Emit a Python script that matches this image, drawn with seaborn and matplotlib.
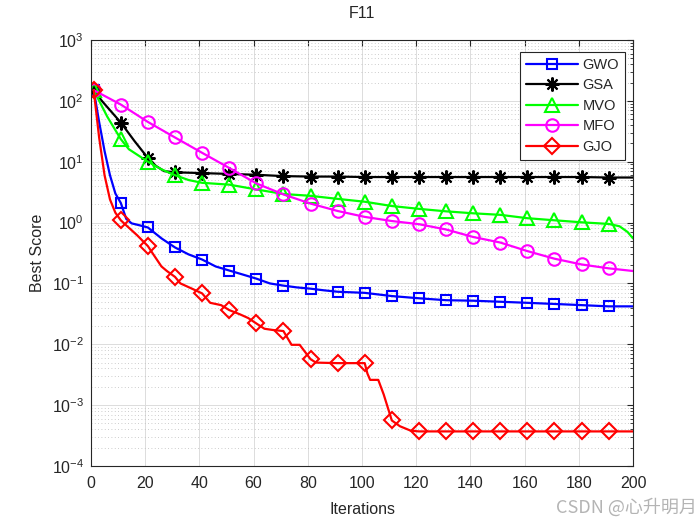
import seaborn as sns
import pandas as pd
import matplotlib.pyplot as plt
from matplotlib.ticker import LogLocator, NullFormatter, MultipleLocator

# convergence curves (iteration, best score)
gwo_iter = [1, 3, 5, 7, 9, 11, 13, 15, 18, 21, 26, 31, 36, 41, 46, 51, 56, 61, 66, 71, 76, 81, 86, 91,
            101, 111, 121, 131, 141, 151, 161, 171, 181, 191, 200]
gwo_score = [150, 45, 15, 6, 3.0, 2.1, 1.15, 0.97, 0.9, 0.83, 0.55, 0.39, 0.3, 0.247, 0.19, 0.163, 0.14,
             0.12, 0.1, 0.092, 0.086, 0.082, 0.077, 0.073, 0.07, 0.062, 0.057, 0.053, 0.052, 0.05, 0.048,
             0.046, 0.044, 0.042, 0.042]

gsa_iter = [1, 4, 11, 16, 21, 24, 27, 31, 41, 51, 61, 71, 81, 91, 101, 111, 121, 131, 141, 151, 161,
            171, 181, 191, 200]
gsa_score = [150, 100, 44, 22, 11.5, 8.5, 7.0, 6.7, 6.5, 6.3, 6.1, 5.8, 5.7, 5.7, 5.6, 5.6, 5.6, 5.6,
             5.6, 5.6, 5.6, 5.6, 5.6, 5.5, 5.5]

mvo_iter = [1, 6, 11, 14, 21, 26, 31, 36, 41, 51, 61, 71, 81, 91, 101, 111, 121, 131, 141, 151, 161,
            171, 181, 191, 195, 198, 200]
mvo_score = [150, 55, 23.5, 16, 10, 7.5, 6.0, 5.0, 4.5, 4.2, 3.5, 2.95, 2.75, 2.45, 2.2, 1.87, 1.68,
             1.53, 1.42, 1.34, 1.18, 1.09, 1.01, 0.95, 0.87, 0.7, 0.55]

mfo_iter = [1, 11, 21, 31, 41, 51, 61, 71, 81, 91, 101, 111, 121, 131, 141, 151, 161, 171, 181, 191, 200]
mfo_score = [150, 87, 45, 25, 14, 7.9, 4.4, 2.9, 2.05, 1.55, 1.24, 1.06, 0.94, 0.77, 0.58, 0.47, 0.34,
             0.255, 0.205, 0.177, 0.16]

gjo_iter = [1, 3, 5, 7, 9, 11, 13, 17, 21, 23, 26, 28, 31, 33, 37, 41, 44, 48, 51, 55, 58, 61, 64, 67,
            71, 74, 77, 81, 83, 91, 101, 102, 103, 106, 108, 111, 114, 118, 121, 131, 141, 151, 161,
            171, 181, 191, 200]
gjo_score = [150, 25, 6, 2.4, 1.45, 1.09, 0.9, 0.62, 0.41, 0.3, 0.19, 0.16, 0.128, 0.1, 0.083, 0.0686,
             0.048, 0.044, 0.0365, 0.031, 0.027, 0.022, 0.018, 0.0172, 0.0165, 0.0098, 0.0098, 0.0057,
             0.005, 0.0049, 0.0049, 0.0033, 0.0026, 0.0026, 0.0015, 0.00056, 0.00045, 0.00038, 0.00037,
             0.00037, 0.00037, 0.00037, 0.00037, 0.00037, 0.00037, 0.00037, 0.00037]

marker_iters = list(range(1, 200, 10))
y_ticks = [1e-4, 1e-3, 1e-2, 1e-1, 1e0, 1e1, 1e2, 1e3]

series = [
    ('GWO', gwo_iter, gwo_score, 'blue', 's', 7.5),
    ('GSA', gsa_iter, gsa_score, 'black', (8, 2, 0), 10),
    ('MVO', mvo_iter, mvo_score, '#00ff00', '^', 9.5),
    ('MFO', mfo_iter, mfo_score, 'magenta', 'o', 9),
    ('GJO', gjo_iter, gjo_score, 'red', 'D', 8),
]

sns.set_style('white')
plt.rcParams['font.family'] = ['Liberation Sans', 'Noto Sans CJK SC', 'DejaVu Sans']
plt.rcParams['mathtext.default'] = 'regular'

fig = plt.figure(figsize=(7, 5.25), dpi=100)
ax = fig.add_axes([0.13, 0.1124, 0.7743, 0.8114])

for name, it, sc, col, mk, ms in series:
    df = pd.DataFrame({'Iterations': it, 'Best Score': sc})
    mask = [i in marker_iters for i in it]
    sns.lineplot(data=df, x='Iterations', y='Best Score', ax=ax, color=col, lw=1.6,
                 marker=mk, markersize=ms, markevery=mask, markerfacecolor='none',
                 markeredgecolor=col, markeredgewidth=1.5, errorbar=None, label=name)

ax.set_yscale('log')
ax.set_xlim(0, 200)
ax.set_ylim(1e-4, 1e3)
ax.xaxis.set_major_locator(MultipleLocator(20))
ax.set_yticks(y_ticks)
ax.yaxis.set_minor_locator(LogLocator(base=10, subs=range(2, 10), numticks=20))
ax.yaxis.set_minor_formatter(NullFormatter())
ax.set_ylim(1e-4, 1e3)

ax.grid(which='major', color='#dcdcdc', lw=0.7, ls='-')
ax.grid(which='minor', axis='y', color='#bcbcbc', lw=0.6, ls=(0, (1, 3)))
ax.set_axisbelow(True)

for s in ax.spines.values():
    s.set_color('#262626')
    s.set_linewidth(0.8)
ax.tick_params(which='both', direction='in', top=True, right=True, colors='#262626',
               labelsize=11.5, labelcolor='#262626')
ax.tick_params(which='major', length=4)
ax.tick_params(which='minor', length=2)
ax.tick_params(axis='x', pad=7)
ax.tick_params(axis='y', pad=5)

ax.set_title('F11', fontsize=11.5, color='#262626', pad=16)
ax.set_xlabel('Iterations', fontsize=11.5, color='#262626', labelpad=8)
ax.set_ylabel('Best Score', fontsize=11.5, color='#262626', labelpad=5)

leg = ax.legend(loc='upper right', bbox_to_anchor=(0.985, 0.972), fontsize=10.5, frameon=True,
                fancybox=False, framealpha=1, edgecolor='#262626', handlelength=3.6,
                labelspacing=0.45, borderpad=0.4, handletextpad=0.3, borderaxespad=0)
leg.get_frame().set_linewidth(0.8)

fig.text(0.995, 0.034, 'CSDN @心升明月', ha='right', va='center', fontsize=13, color='#b4b4b4',
         family=['Noto Sans CJK SC', 'DejaVu Sans'])

fig.savefig('out.png', dpi=100)
